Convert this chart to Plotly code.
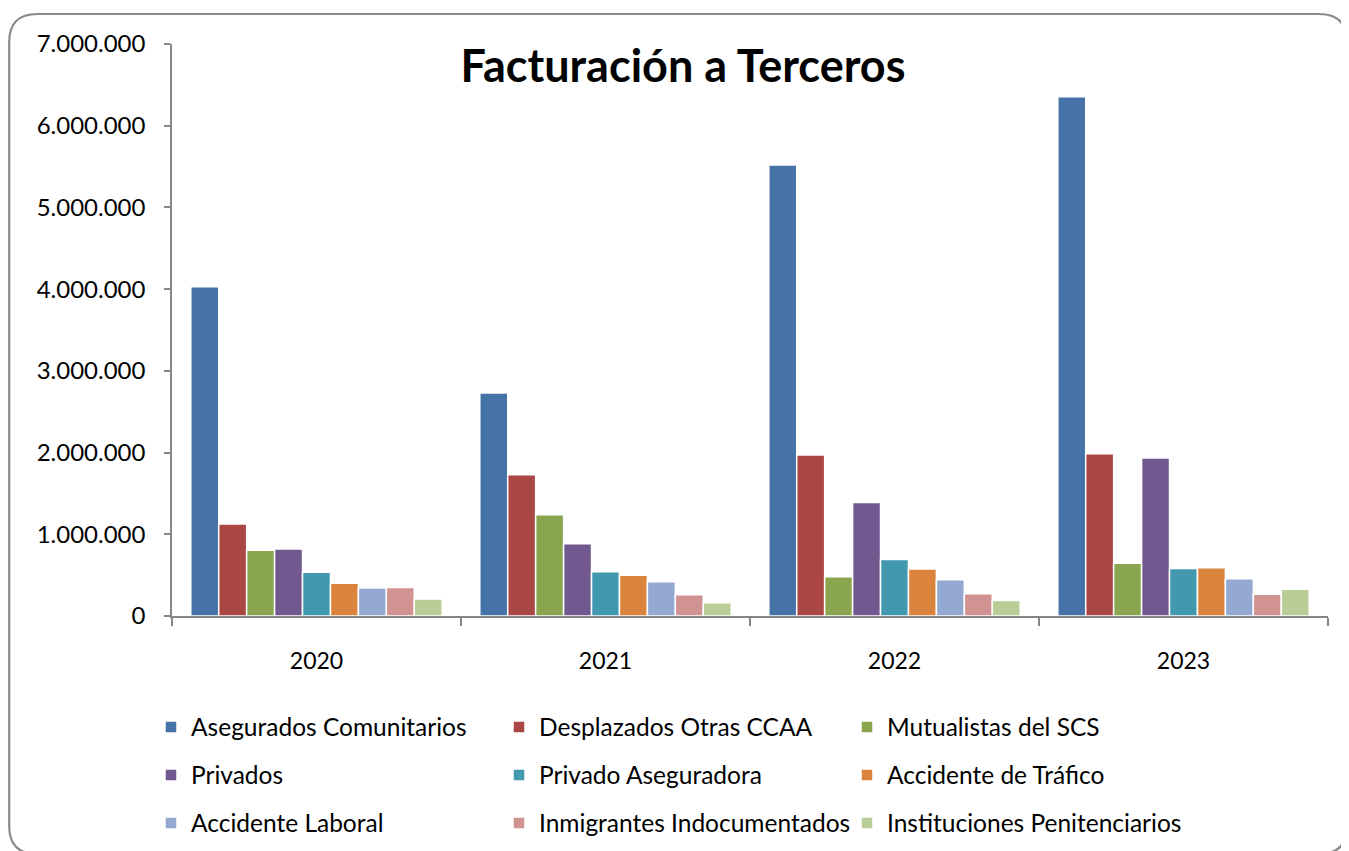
import plotly.graph_objects as go

# years on the x axis
years = ["2020", "2021", "2022", "2023"]

# one list per series
asegurados_comunitarios = [4030000, 2730000, 5520000, 6355000]
desplazados_otras_ccaa = [1125000, 1730000, 1970000, 1985000]
mutualistas_scs = [805000, 1240000, 480000, 645000]
privados = [820000, 885000, 1390000, 1935000]
privado_aseguradora = [535000, 540000, 690000, 580000]
accidente_trafico = [400000, 500000, 575000, 590000]
accidente_laboral = [343000, 420000, 445000, 455000]
inmigrantes_indocumentados = [350000, 260000, 273000, 267000]
instituciones_penitenciarios = [208000, 163000, 190000, 327000]

series = [
    ("Asegurados Comunitarios", asegurados_comunitarios, "#4572A7"),
    ("Desplazados Otras CCAA", desplazados_otras_ccaa, "#AA4643"),
    ("Mutualistas del SCS", mutualistas_scs, "#89A54E"),
    ("Privados", privados, "#71588F"),
    ("Privado Aseguradora", privado_aseguradora, "#4198AF"),
    ("Accidente de Tráfico", accidente_trafico, "#DB843D"),
    ("Accidente Laboral", accidente_laboral, "#93A9D1"),
    ("Inmigrantes Indocumentados", inmigrantes_indocumentados, "#D19392"),
    ("Instituciones Penitenciarios", instituciones_penitenciarios, "#B9CD96"),
]

FONT = "Lato, Calibri, sans-serif"
legend_ids = ["legend", "legend", "legend", "legend2", "legend2", "legend2",
              "legend3", "legend3", "legend3"]

fig = go.Figure()
for i, (name, vals, col) in enumerate(series):
    fig.add_trace(go.Bar(
        x=years, y=vals, name=name,
        marker=dict(color=col, line=dict(color="white", width=1.5)),
        legend=legend_ids[i],
    ))

# page body has an 8px margin, so work in screen pixels and shift
OFF = 8
W, H = 1349 - OFF, 851 - OFF
L, R, T, B = 172 - OFF, 1328 - OFF, 44 - OFF, 616 - OFF

# rounded frame around the whole chart (pixel coords relative to plot top-left)
fx0, fx1 = 1.2 - L, 1339 - L
fyt, fyb = T - 6, T - 846
r = 28
frame = (f"M{fx0 + r},{fyt} L{fx1 - r},{fyt} Q{fx1},{fyt} {fx1},{fyt - r} "
         f"L{fx1},{fyb + r} Q{fx1},{fyb} {fx1 - r},{fyb} L{fx0 + r},{fyb} "
         f"Q{fx0},{fyb} {fx0},{fyb + r} L{fx0},{fyt - r} Q{fx0},{fyt} {fx0 + r},{fyt} Z")

def leg(yc):
    yc = yc - OFF
    return dict(
        orientation="h", x=(151 - OFF - L) / (R - L), xanchor="left",
        y=(B - yc) / (B - T), yanchor="middle",
        entrywidth=303, entrywidthmode="pixels",
        font=dict(family=FONT, size=24.5, color="black"),
        bgcolor="rgba(0,0,0,0)", traceorder="normal",
    )

fig.update_layout(
    width=W, height=H,
    margin=dict(l=L, r=W - R, t=T, b=H - B, autoexpand=False),
    paper_bgcolor="white", plot_bgcolor="white",
    separators=",.",
    barmode="group", bargap=0.13, bargroupgap=0,
    font=dict(family=FONT, size=23, color="black"),
    title=dict(text="<b>Facturación a Terceros</b>", x=(683 - OFF) / W, xanchor="center",
               y=1 - (66 - OFF) / H, yanchor="middle",
               font=dict(family=FONT, size=45, color="black")),
    showlegend=True,
    legend=leg(727), legend2=leg(775), legend3=leg(823),
    shapes=[dict(type="path", xref="paper", yref="paper",
                 xsizemode="pixel", ysizemode="pixel", xanchor=0, yanchor=1,
                 path=frame, line=dict(color="#8a8a8a", width=2.2))],
)

fig.update_yaxes(
    range=[0, 7000000], dtick=1000000, tickformat=",d",
    showgrid=False, zeroline=False,
    showline=True, linecolor="#868686", linewidth=1.5,
    ticks="outside", ticklen=6, tickcolor="#868686", tickwidth=1.5,
    ticklabelstandoff=14,
    tickfont=dict(family=FONT, size=24, color="black"),
)
fig.update_xaxes(
    showgrid=False, showline=True, linecolor="#868686", linewidth=2,
    ticks="outside", tickson="boundaries", ticklen=8, tickcolor="#868686",
    tickwidth=1.5, ticklabelstandoff=23,
    tickfont=dict(family=FONT, size=23, color="black"),
)

fig.write_html("out.html")
